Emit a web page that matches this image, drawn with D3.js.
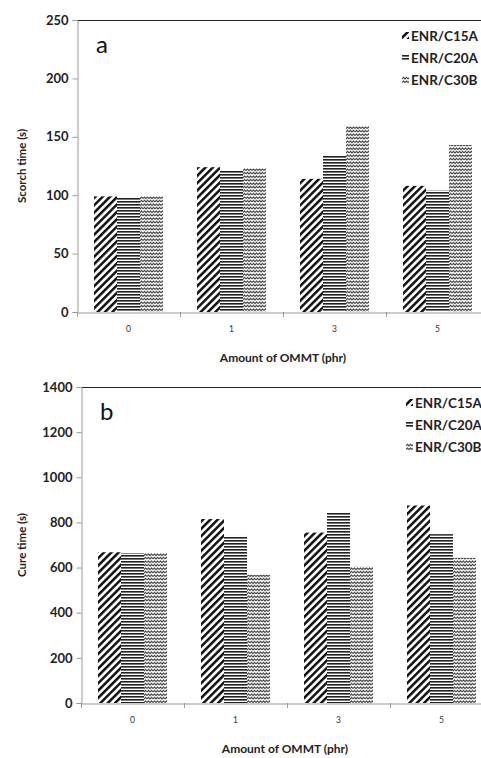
<!DOCTYPE html>
<html>
<head>
<meta charset="utf-8">
<script src="https://cdn.jsdelivr.net/npm/d3@7"></script>
<style>
  html, body { margin: 0; padding: 0; background: #fff; overflow: hidden; }
  svg { display: block; }
  text { font-family: Lato, "Open Sans", sans-serif; }
</style>
</head>
<body>
<div id="chart"></div>
<script>
// data
const categories = ['0', '1', '3', '5'];
const seriesNames = ['ENR/C15A', 'ENR/C20A', 'ENR/C30B'];

const scorchC15A = [99, 124, 114, 108];
const scorchC20A = [98, 121, 134, 104];
const scorchC30B = [99, 123, 159, 143];

const cureC15A = [668, 815, 755, 875];
const cureC20A = [664, 740, 845, 748];
const cureC30B = [664, 568, 605, 643];

const scorchTicks = [0, 50, 100, 150, 200, 250];
const cureTicks = [0, 200, 400, 600, 800, 1000, 1200, 1400];

const W = 481, H = 758;
const patternIds = ['pat-diag', 'pat-horiz', 'pat-zig'];

const svg = d3.select('#chart').append('svg')
    .attr('width', W)
    .attr('height', H);

function makePatterns() {
    const defs = svg.append('defs');

    // wide upward diagonal
    const p1 = defs.append('pattern')
        .attr('id', patternIds[0])
        .attr('patternUnits', 'userSpaceOnUse')
        .attr('width', 5.2).attr('height', 5.2)
        .attr('patternTransform', 'rotate(45)');
    p1.append('rect').attr('width', 5.2).attr('height', 5.2).attr('fill', '#fff');
    p1.append('rect').attr('width', 2.5).attr('height', 5.2).attr('fill', '#111');

    // narrow horizontal
    const p2 = defs.append('pattern')
        .attr('id', patternIds[1])
        .attr('patternUnits', 'userSpaceOnUse')
        .attr('width', 4).attr('height', 3);
    p2.append('rect').attr('width', 4).attr('height', 3).attr('fill', '#fff');
    p2.append('rect').attr('width', 4).attr('height', 1).attr('fill', '#222');
    p2.append('rect').attr('y', 1).attr('width', 4).attr('height', 1).attr('fill', '#777');

    // zig zag
    const p3 = defs.append('pattern')
        .attr('id', patternIds[2])
        .attr('patternUnits', 'userSpaceOnUse')
        .attr('width', 6).attr('height', 3.5);
    p3.append('rect').attr('width', 6).attr('height', 3.5).attr('fill', '#fff');
    p3.append('path')
        .attr('d', 'M0,2.5 L1.5,1 L3,2.5 L4.5,1 L6,2.5')
        .attr('fill', 'none')
        .attr('stroke', '#222')
        .attr('stroke-width', 1);
}

function drawChart(opts) {
    const { left, top, bottom, series, ticks, yTitle, letter } = opts;
    const band = 103;
    const right = left + band * categories.length;

    const g = svg.append('g');

    const x0 = d3.scaleBand().domain(categories).range([left, right]).padding(0);
    const x1 = d3.scaleBand().domain(seriesNames).range([17, 86]).padding(0);
    const y = d3.scaleLinear()
        .domain([0, ticks[ticks.length - 1]])
        .range([bottom, top]);

    // top border of plot area
    g.append('line')
        .attr('x1', left).attr('x2', right)
        .attr('y1', top + 0.5).attr('y2', top + 0.5)
        .attr('stroke', '#222').attr('stroke-width', 1);

    // bars
    const groups = g.selectAll('g.grp')
        .data(categories)
        .enter().append('g')
        .attr('class', 'grp')
        .attr('transform', d => `translate(${x0(d)},0)`);

    groups.selectAll('rect')
        .data((d, i) => seriesNames.map((s, k) => ({ s, k, v: series[k][i] })))
        .enter().append('rect')
        .attr('x', d => x1(d.s))
        .attr('width', x1.bandwidth())
        .attr('y', d => y(d.v))
        .attr('height', d => bottom - y(d.v))
        .attr('fill', d => `url(#${patternIds[d.k]})`);

    // y axis
    const yAxis = d3.axisLeft(y).tickValues(ticks).tickFormat(d3.format('d'))
        .tickSize(5).tickPadding(4);
    const ya = g.append('g')
        .attr('transform', `translate(${left + 0.5},0)`)
        .call(yAxis);
    ya.select('.domain').attr('stroke', '#999');
    ya.selectAll('.tick line').attr('stroke', '#999');
    ya.selectAll('.tick text')
        .attr('font-size', 13)
        .attr('font-weight', 'bold')
        .attr('fill', '#222');

    // x axis
    const xAxis = d3.axisBottom(x0).tickSize(0).tickPadding(13);
    const xa = g.append('g')
        .attr('transform', `translate(0,${bottom + 0.5})`)
        .call(xAxis);
    xa.select('.domain').attr('stroke', '#999');
    xa.selectAll('.tick text')
        .attr('font-size', 8.5)
        .attr('fill', '#333');

    // band boundary ticks
    g.selectAll('line.xtick')
        .data(categories.slice(1))
        .enter().append('line')
        .attr('class', 'xtick')
        .attr('x1', d => x0(d) + 0.5).attr('x2', d => x0(d) + 0.5)
        .attr('y1', bottom).attr('y2', bottom + 5)
        .attr('stroke', '#999');
    g.append('line')
        .attr('x1', left + 0.5).attr('x2', left + 0.5)
        .attr('y1', bottom).attr('y2', bottom + 5)
        .attr('stroke', '#999');

    // axis titles
    g.append('text')
        .attr('x', (left + 481) / 2 + 4)
        .attr('y', bottom + 50)
        .attr('text-anchor', 'middle')
        .attr('font-size', 12)
        .attr('font-weight', 'bold')
        .attr('fill', '#222')
        .text('Amount of OMMT (phr)');

    g.append('text')
        .attr('transform', `translate(26,${(top + bottom) / 2}) rotate(-90)`)
        .attr('text-anchor', 'middle')
        .attr('font-size', 11.5)
        .attr('font-weight', 'bold')
        .attr('fill', '#222')
        .text(yTitle);

    // panel letter
    g.append('text')
        .attr('x', left + 19)
        .attr('y', top + 33)
        .attr('font-size', 24)
        .attr('fill', '#111')
        .text(letter);

    // legend
    const lg = g.append('g')
        .attr('transform', `translate(${left + 325},${top + 16})`);
    const items = lg.selectAll('g')
        .data(seriesNames)
        .enter().append('g')
        .attr('transform', (d, i) => `translate(0,${i * 22})`);
    items.append('rect')
        .attr('x', 0).attr('y', -4)
        .attr('width', 7).attr('height', 7)
        .attr('fill', (d, i) => `url(#${patternIds[i]})`);
    items.append('text')
        .attr('x', 9)
        .attr('y', 4.5)
        .attr('font-size', 13.5)
        .attr('font-weight', 'bold')
        .attr('fill', '#222')
        .text(d => d);
}

makePatterns();

drawChart({
    left: 77, top: 20, bottom: 312,
    series: [scorchC15A, scorchC20A, scorchC30B],
    ticks: scorchTicks,
    yTitle: 'Scorch time (s)',
    letter: 'a'
});

drawChart({
    left: 81, top: 387, bottom: 703,
    series: [cureC15A, cureC20A, cureC30B],
    ticks: cureTicks,
    yTitle: 'Cure time (s)',
    letter: 'b'
});
</script>
</body>
</html>
